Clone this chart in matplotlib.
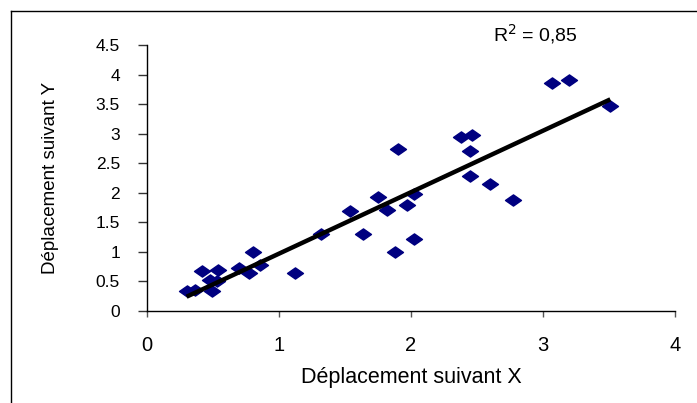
import numpy as np
import matplotlib
matplotlib.use("Agg")
import matplotlib.pyplot as plt
from matplotlib.lines import Line2D
from matplotlib.path import Path

plt.rcParams['font.family'] = ['Liberation Sans', 'DejaVu Sans']

# Data
x_vals = [0.30, 0.36, 0.42, 0.49, 0.48, 0.54, 0.53, 0.70, 0.77, 0.805, 0.856,
          1.12, 1.316, 1.54, 1.64, 1.75, 1.82, 1.88, 1.90, 1.97, 2.02, 2.02,
          2.38, 2.46, 2.45, 2.45, 2.60, 2.77, 3.07, 3.20, 3.51]
y_vals = [0.34, 0.355, 0.68, 0.34, 0.52, 0.69, 0.50, 0.72, 0.64, 0.99, 0.78,
          0.64, 1.30, 1.69, 1.31, 1.93, 1.71, 0.99, 2.74, 1.79, 1.98, 1.22,
          2.94, 2.98, 2.70, 2.29, 2.15, 1.88, 3.86, 3.91, 3.47]
# Trend line as shown in the chart
trend_slope = 1.04
trend_intercept = -0.07
r2_label = "0,85"

x_ticks = [0, 1, 2, 3, 4]
y_ticks = [0, 0.5, 1, 1.5, 2, 2.5, 3, 3.5, 4, 4.5]
y_tick_labels = ["0", "0.5", "1", "1.5", "2", "2.5", "3", "3.5", "4", "4.5"]

W, H = 697, 403
fig = plt.figure(figsize=(W / 100, H / 100), dpi=100)
ax = fig.add_axes([147 / W, 1 - 311 / H, (675 - 147) / W, (311 - 45) / H])

diamond = Path([(-1, 0), (0, 0.7), (1, 0), (0, -0.7), (-1, 0)],
               [Path.MOVETO, Path.LINETO, Path.LINETO, Path.LINETO, Path.CLOSEPOLY])

ax.plot(x_vals, y_vals, linestyle='none', marker=diamond, markersize=11.5,
        color='#000080', markeredgecolor='#000080', zorder=2)

xs = np.array([min(x_vals), max(x_vals)])
ax.plot(xs, trend_slope * xs + trend_intercept, color='black', lw=3.2,
        solid_capstyle='butt', zorder=3)

ax.set_xlim(0, 4)
ax.set_ylim(0, 4.5)
ax.set_xticks(x_ticks)
ax.set_xticklabels([str(t) for t in x_ticks])
ax.set_yticks(y_ticks)
ax.set_yticklabels(y_tick_labels)

for s in ['top', 'right']:
    ax.spines[s].set_visible(False)
for s in ['left', 'bottom']:
    ax.spines[s].set_color('black')
    ax.spines[s].set_linewidth(1.0)

ax.tick_params(axis='x', direction='out', length=4, width=1, color='#555555',
               labelsize=14.5, pad=14)
ax.tick_params(axis='y', direction='out', length=6.5, width=1, color='#333333',
               labelsize=12.5, pad=13)

ax.set_xlabel("Déplacement suivant X", fontsize=15.5, labelpad=9)
ax.set_ylabel("Déplacement suivant Y", fontsize=13.5, labelpad=26)

fig.text(493 / W, 1 - 41 / H, r"R$^{2}$ = " + r2_label, fontsize=14,
         ha='left', va='baseline')

# Chart frame (top and left edges visible in the crop)
fig.add_artist(Line2D([11 / W, 1], [1 - 11 / H, 1 - 11 / H], color='black', lw=1.0,
                      transform=fig.transFigure))
fig.add_artist(Line2D([11 / W, 11 / W], [0, 1 - 11 / H], color='black', lw=1.0,
                      transform=fig.transFigure))

fig.savefig("out.png", dpi=100)
